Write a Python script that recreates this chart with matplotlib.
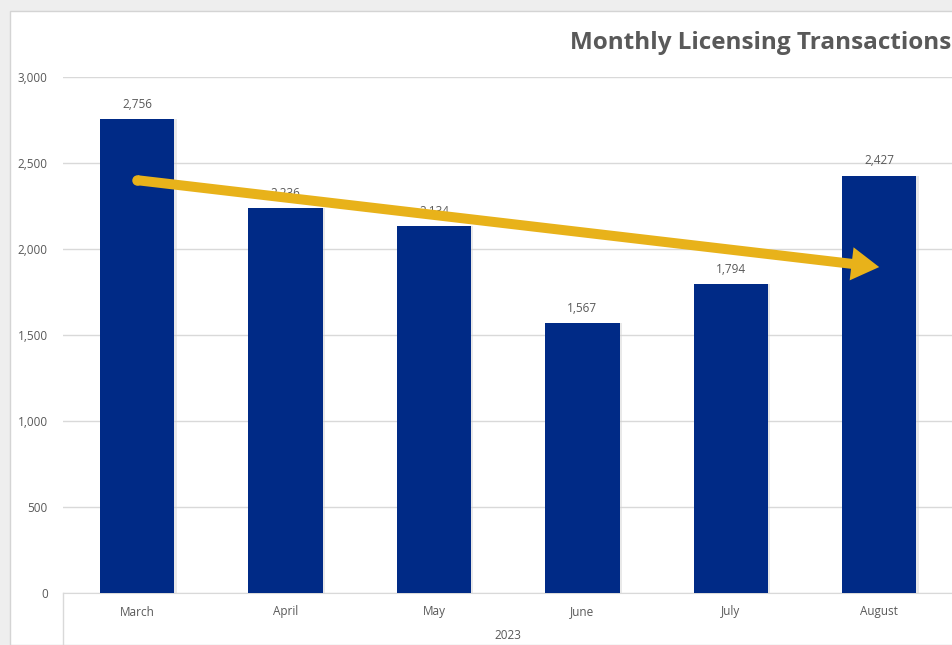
import numpy as np
import matplotlib.pyplot as plt
from matplotlib.patches import Rectangle, FancyArrowPatch
from matplotlib.lines import Line2D

months = ['March', 'April', 'May', 'June', 'July', 'August']
transactions = [2756, 2236, 2134, 1567, 1794, 2427]
year = '2023'
yticks = [0, 500, 1000, 1500, 2000, 2500, 3000]
# hand-drawn trend arrow (start / end in data units)
trend_start = (0, 2400)
trend_end = (5, 1895)

W, H = 953, 645
plt.rcParams['font.family'] = ['Open Sans', 'DejaVu Sans']
fig = plt.figure(figsize=(W / 100, H / 100), dpi=100, facecolor='#EEEEEE')

# white chart area with thin border
fig.patches.append(Rectangle((10 / W, 0), 1, (H - 11) / H, transform=fig.transFigure,
                             facecolor='white', edgecolor='#D4D4D4', lw=1, zorder=-10))

ax = fig.add_axes([63 / W, (H - 593) / H, (953.4 - 63) / W, 516 / H])
ax.set_facecolor('none')
x = np.arange(len(months))
ax.bar(x + 0.015, transactions, width=0.5, color='#D0D0D0', alpha=0.45, zorder=2)
bars = ax.bar(x, transactions, width=0.5, color='#002A86', zorder=3)
for xi, v in zip(x, transactions):
    ax.annotate(f'{v:,}', (xi, v), xytext=(0, 6), textcoords='offset points',
                ha='center', va='bottom', fontsize=8.5, color='#595959', zorder=4)

ax.set_xlim(-0.5, len(months) - 0.5)
ax.set_ylim(0, 3000)
ax.set_yticks(yticks)
ax.set_yticklabels([f'{t:,}' for t in yticks])
ax.grid(axis='y', color='#D9D9D9', lw=1, zorder=0)
for s in ['top', 'right', 'left']:
    ax.spines[s].set_visible(False)
ax.spines['bottom'].set_color('#D9D9D9')
ax.tick_params(axis='y', length=0, pad=11, labelsize=8.5, labelcolor='#595959')
ax.set_xticks(x)
ax.set_xticklabels(months)
ax.tick_params(axis='x', length=0, pad=9, labelsize=8.5, labelcolor='#595959')

# second category level
ax.text(0.5, -0.082, year, transform=ax.transAxes, ha='center', va='center',
        fontsize=8.5, color='#595959')
for xx in [0, 1]:
    ax.add_line(Line2D([xx, xx], [0, -0.2], transform=ax.transAxes, color='#D9D9D9',
                       lw=1, clip_on=False))

# trend arrow
ax.plot([trend_start[0]], [trend_start[1]], 'o', ms=6.5, color='#E8B21A', zorder=5)
arrow = FancyArrowPatch(trend_start, trend_end,
                        arrowstyle='simple,head_length=1.0,head_width=1.2,tail_width=0.36',
                        mutation_scale=20, color='#E8B21A', lw=0, zorder=5,
                        shrinkA=0, shrinkB=0)
ax.add_patch(arrow)

fig.text(951 / W, (H - 43) / H, 'Monthly Licensing Transactions', ha='right', va='center',
         fontsize=17.5, fontweight='bold', color='#595959')

fig.savefig('out.png', dpi=100, facecolor=fig.get_facecolor())
